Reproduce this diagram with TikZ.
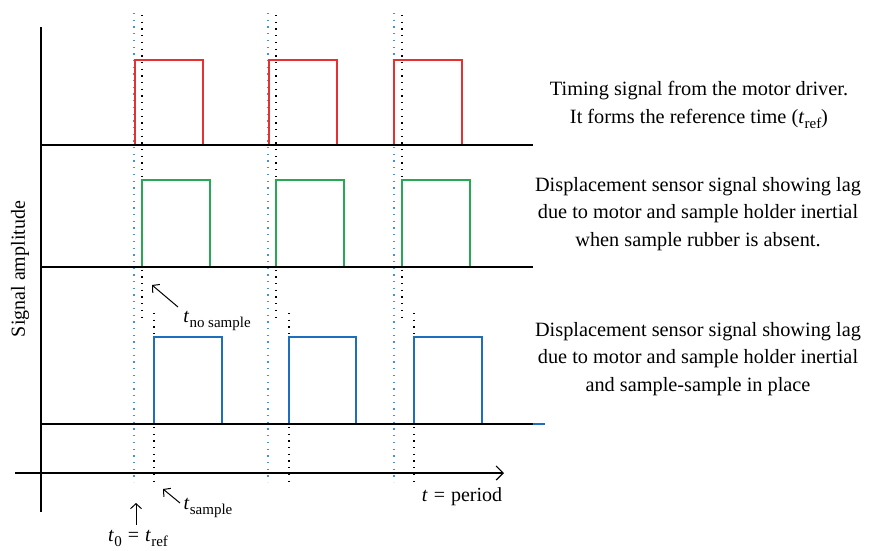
\documentclass[tikz,border=0pt]{standalone}
\usepackage{fontspec}
\setmainfont{Liberation Serif}
\usetikzlibrary{arrows.meta}
\definecolor{sigred}{RGB}{232,48,48}
\definecolor{siggreen}{RGB}{40,168,85}
\definecolor{sigblue}{RGB}{30,110,190}
\definecolor{dotblue}{RGB}{70,145,215}
\newcommand\tsb[1]{\textit{t}\kern0.3pt\raisebox{-0.25em}{\fontsize{15}{15}\selectfont #1}}
\newcommand\eqsp{\hspace{0.3em}=\hspace{0.3em}}
\begin{document}
\begin{tikzpicture}[x=1pt,y=-1pt,
  sig/.style={line width=1.4pt},
  base/.style={line width=1.2pt,black},
  axis/.style={line width=1.2pt,black},
  dotl/.style={line width=1.3pt,dash pattern=on 1.3pt off 5.4pt},
  lbl/.style={font=\fontsize{20}{28}\selectfont,inner sep=0pt},
  desc/.style={font=\fontsize{20.3}{27.5}\selectfont,align=center,inner sep=0pt},
  arr/.style={line width=1pt,-{Straight Barb[length=5pt,width=11pt]}}]
\useasboundingbox (0,0) rectangle (887,550);
% dotted reference lines
\foreach \x in {134,268,394} \draw[dotl,dotblue] (\x,13) -- (\x,482);
\foreach \x in {142,276,402} \draw[dotl,black] (\x,15) -- (\x,323);
\foreach \x in {154,289,414} \draw[dotl,black] (\x,313) -- (\x,482);
% signals
\draw[sig,sigred] (72,145) -- (135,145) -- (135,60) -- (203,60) -- (203,145) -- (269,145) -- (269,60) -- (337,60) -- (337,145) -- (394,145) -- (394,60) -- (462,60) -- (462,145) -- (533,145);
\draw[sig,siggreen] (80,267) -- (142,267) -- (142,180) -- (210,180) -- (210,267) -- (276,267) -- (276,180) -- (344,180) -- (344,267) -- (402,267) -- (402,180) -- (470,180) -- (470,267) -- (533,267);
\draw[sig,sigblue] (92,424) -- (154,424) -- (154,337) -- (222,337) -- (222,424) -- (289,424) -- (289,337) -- (356,337) -- (356,424) -- (414,424) -- (414,337) -- (482,337) -- (482,424) -- (545,424);
% baselines
\draw[base] (41,145) -- (533,145);
\draw[base] (41,267) -- (533,267);
\draw[base] (41,424) -- (533,424);
% axes
\draw[axis] (41,27) -- (41,512);
\draw[axis,-{Straight Barb[length=7pt,width=14pt]}] (15,473) -- (504,473);
% labels
\node[lbl,rotate=90] (amp) at (20,269) {Signal amplitude};
\node[lbl] (period) at (462,497) {\textit{t}\eqsp period};
\node[lbl] (tns) at (217,321) {\tsb{no sample}};
\node[lbl] (ts) at (208,508) {\tsb{sample}};
\node[lbl] (t0) at (138,538) {\tsb{0}\eqsp\tsb{ref}};
\coordinate (tnsA) at (178,307);
\coordinate (tnsB) at (152,285);
\coordinate (tsA) at (180,503);
\coordinate (tsB) at (163,489);
\coordinate (t0A) at (136,525);
\coordinate (t0B) at (136,503);
\draw[arr] (tnsA) -- (tnsB);
\draw[arr] (tsA) -- (tsB);
\draw[arr] (t0A) -- (t0B);
% descriptions
\node[desc] (d1) at (699,105) {Timing signal from the motor driver.\\It forms the reference time (\tsb{ref})};
\node[desc] (d2) at (698,214) {Displacement sensor signal showing lag\\due to motor and sample holder inertial\\when sample rubber is absent.};
\node[desc] (d3) at (698,359) {Displacement sensor signal showing lag\\due to motor and sample holder inertial\\and sample-sample in place};
\end{tikzpicture}
\end{document}
